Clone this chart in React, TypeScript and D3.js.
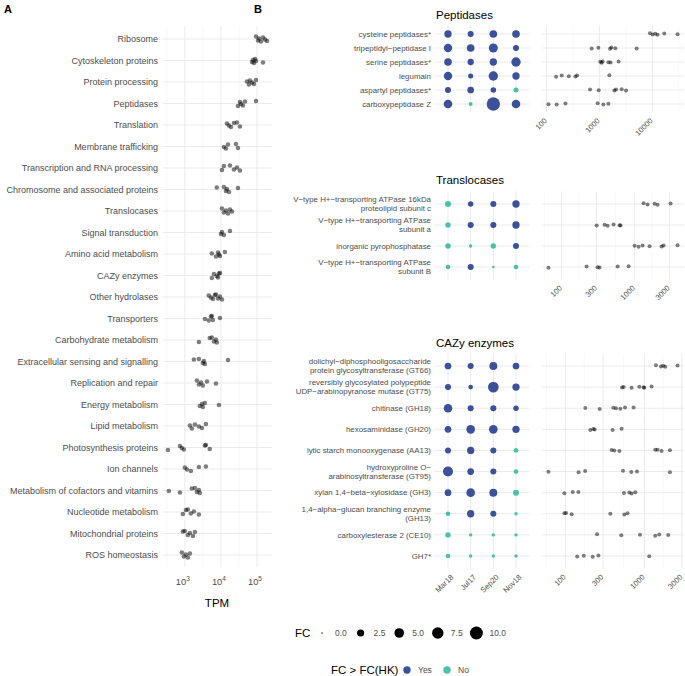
import React from "react";
import * as d3 from "d3";

// ---- panel A: TPM per functional category (one dot per sample) ----
const categoriesA = [
  "Ribosome", "Cytoskeleton proteins", "Protein processing", "Peptidases", "Translation",
  "Membrane trafficking", "Transcription and RNA processing", "Chromosome and associated proteins",
  "Translocases", "Signal transduction", "Amino acid metabolism", "CAZy enzymes", "Other hydrolases",
  "Transporters", "Carbohydrate metabolism", "Extracellular sensing and signalling",
  "Replication and repair", "Energy metabolism", "Lipid metabolism", "Photosynthesis proteins",
  "Ion channels", "Metabolism of cofactors and vitamins", "Nucleotide metabolism",
  "Mitochondrial proteins", "ROS homeostasis",
];
const tpmA = [
  [94000, 107000, 114000, 129000, 147000, 167000, 190000],
  [72600, 77400, 82500, 88000, 94000, 147000],
  [52700, 59900, 63900, 72600, 82500, 93800],
  [29700, 33700, 35900, 40800, 46400, 93800],
  [14700, 16700, 19000, 23000, 27800, 33700],
  [12100, 13800, 15700, 26100, 29700],
  [10700, 12100, 17800, 23000, 27800, 33700],
  [7700, 12100, 13800, 14700, 16700, 29700],
  [10700, 12100, 13800, 15700, 17800, 20200],
  [10000, 10700, 12100, 17800],
  [5600, 7300, 8300, 8800, 9400, 12900],
  [5600, 6400, 7700, 8300, 8800, 9400],
  [4600, 5300, 6000, 6800, 7300, 8300, 9400, 10700],
  [3600, 4600, 5300, 5600, 6000, 9400],
  [2450, 4900, 5600, 6400, 7300, 7700],
  [1780, 2450, 3160, 3370, 3600, 15700],
  [2150, 2450, 2800, 3160, 4100, 7300],
  [2600, 3000, 3160, 3600, 8800],
  [1380, 1560, 1900, 2450, 2970, 3830],
  [340, 730, 825, 940, 3600, 3830, 4900],
  [1000, 1140, 1470, 2450, 3830],
  [360, 730, 1560, 1900, 2150, 2450, 2600],
  [880, 1070, 1210, 1470, 1780, 2450],
  [880, 1000, 1210, 1380, 1670, 1900],
  [825, 940, 1070, 1210, 1380],
];
const ticksA = [1e3, 1e4, 1e5];

// ---- panel B ----
const months = ["Mar18", "Jul17", "Sep20", "Nov18"];

const peptidaseGenes = [
  ["cysteine peptidases*"], ["tripeptidyl−peptidase I"], ["serine peptidases*"],
  ["legumain"], ["aspartyl peptidases*"], ["carboxypeptidase Z"],
];
const peptidaseFC = [
  [2.6, 1.6, 2.9, 2.9], [3.6, 2.9, 4.3, 1.6], [2.9, 1.8, 2.6, 4.7],
  [3.6, 1.0, 4.7, 2.6], [1.6, 2.1, 1.3, 1.0], [3.9, 0.5, 10.6, 3.9],
];
const peptidaseAboveHK = [
  ["Yes", "Yes", "Yes", "Yes"], ["Yes", "Yes", "Yes", "Yes"], ["Yes", "Yes", "Yes", "Yes"],
  ["Yes", "Yes", "Yes", "Yes"], ["Yes", "Yes", "Yes", "No"], ["Yes", "No", "Yes", "Yes"],
];
const peptidaseTPM = [
  [9040, 10140, 11400, 12590, 16840, 30000],
  [716, 957, 1591, 1684, 2004, 5060],
  [1040, 1100, 1150, 1480, 1630, 2310],
  [152, 194, 264, 352, 379, 1545],
  [667, 970, 1919, 2065, 2636, 3190],
  [109, 156, 228, 929, 1190, 1479],
];
const peptidaseTicks = [100, 1000, 10000];

const translocaseGenes = [
  ["V−type H+−transporting ATPase 16kDa", "proteolipid subunit c"],
  ["V−type H+−transporting ATPase", "subunit a"],
  ["inorganic pyrophosphatase"],
  ["V−type H+−transporting ATPase", "subunit B"],
];
const translocaseFC = [
  [1.6, 1.2, 1.6, 2.6], [1.2, 1.6, 1.6, 2.6], [1.2, 0.3, 1.2, 1.6], [0.8, 1.6, 0.1, 0.8],
];
const translocaseAboveHK = [
  ["No", "Yes", "Yes", "Yes"], ["No", "Yes", "Yes", "Yes"], ["No", "No", "No", "Yes"], ["No", "Yes", "No", "No"],
];
const translocaseTPM = [
  [1328, 1507, 1880, 2066, 3112],
  [302, 388, 427, 515, 623, 643],
  [1000, 1135, 1288, 1605, 2343, 2497, 3880],
  [66, 220, 311, 331, 585, 828],
];
const translocaseTicks = [100, 300, 1000, 3000];

const cazyGenes = [
  ["dolichyl−diphosphooligosaccharide", "protein glycosyltransferase (GT66)"],
  ["reversibly glycosylated polypeptide", "UDP−arabinopyranose mutase (GT75)"],
  ["chitinase (GH18)"],
  ["hexosaminidase (GH20)"],
  ["lytic starch monooxygenase (AA13)"],
  ["hydroxyproline O−", "arabinosyltransferase (GT95)"],
  ["xylan 1,4−beta−xylosidase (GH3)"],
  ["1,4−alpha−glucan branching enzyme", "(GH13)"],
  ["carboxylesterase 2 (CE10)"],
  ["GH7*"],
];
const cazyFC = [
  [2.1, 1.6, 3.2, 2.1], [1.6, 0.8, 6.4, 2.6], [3.9, 1.6, 1.6, 1.2], [2.1, 3.9, 3.9, 2.6],
  [1.6, 2.6, 1.6, 0.8], [5.5, 2.1, 1.6, 0.8], [2.1, 3.9, 3.2, 1.6], [0.8, 2.6, 1.6, 0.3],
  [1.2, 0.3, 0.3, 0.3], [0.8, 0.3, 0.3, 0.3],
];
const cazyAboveHK = [
  ["Yes", "Yes", "Yes", "Yes"], ["Yes", "Yes", "Yes", "Yes"], ["Yes", "Yes", "Yes", "Yes"],
  ["Yes", "Yes", "Yes", "Yes"], ["Yes", "Yes", "Yes", "No"], ["Yes", "Yes", "Yes", "No"],
  ["Yes", "Yes", "Yes", "No"], ["No", "Yes", "Yes", "No"], ["No", "No", "No", "No"], ["No", "No", "No", "No"],
];
const cazyTPM = [
  [1406, 1627, 1740, 1845, 2640],
  [522, 547, 690, 865, 980, 1000, 1237],
  [179, 272, 405, 438, 497, 570, 732],
  [207, 226, 235, 397, 516],
  [386, 417, 483, 1377, 1473, 1656, 2115],
  [61, 147, 178, 537, 685, 808, 2115],
  [97, 124, 146, 553, 646, 691, 769],
  [97, 102, 120, 371, 558, 613],
  [252, 511, 882, 1377, 1549, 2014],
  [141, 171, 222, 262, 1157],
];
const cazyTicks = [100, 300, 1000, 3000];

const fcLegend = [0, 2.5, 5, 7.5, 10];
const hkLegend = ["Yes", "No"];

// ---- styling ----
const FONT = "'Liberation Sans', Arial, Helvetica, sans-serif";
const AXIS_TXT = "#4d4d4d";
const GRID = "#ebebeb";
const GRID_MINOR = "#f4f4f4";
const hkColor = d3.scaleOrdinal<string, string>().domain(["Yes", "No"]).range(["#3b5199", "#49c3a6"]);
const fcSize = d3.scaleSqrt().domain([0, 10]).range([0.7, 6.5]);
const jitter = [-2.5, 1.5, -0.5, 2.5, -1.5, 0.5, 2, -2];

// log scale with ggplot-style 5% expansion
function logScale(values: number[], range: [number, number]) {
  const [lo, hi] = d3.extent(values.map(Math.log10)) as [number, number];
  const pad = (hi - lo) * 0.05;
  return d3.scaleLog().domain([10 ** (lo - pad), 10 ** (hi + pad)]).range(range);
}

function minorBreaks(ticks: number[], scale: d3.ScaleLogarithmic<number, number>) {
  const l = ticks.map(Math.log10);
  const out: number[] = [];
  for (let i = 0; i < l.length - 1; i++) out.push((l[i] + l[i + 1]) / 2);
  out.push(l[0] - (l[1] - l[0]) / 2);
  out.push(l[l.length - 1] + (l[l.length - 1] - l[l.length - 2]) / 2);
  const [d0, d1] = scale.domain().map(Math.log10);
  return out.filter((v) => v >= d0 && v <= d1).map((v) => 10 ** v);
}

function PanelA() {
  const x = logScale(tpmA.flat(), [163, 272]);
  const y = d3.scalePoint().domain(categoriesA).range([39, 555]);
  const top = 26, bottom = 567;
  return (
    <g>
      {minorBreaks(ticksA, x).map((t) => (
        <line key={"m" + t} x1={x(t)} x2={x(t)} y1={top} y2={bottom} stroke={GRID_MINOR} strokeWidth={0.7} />
      ))}
      {ticksA.map((t) => (
        <line key={t} x1={x(t)} x2={x(t)} y1={top} y2={bottom} stroke={GRID} strokeWidth={1} />
      ))}
      {categoriesA.map((c) => (
        <line key={c} x1={163} x2={272} y1={y(c)} y2={y(c)} stroke={GRID} strokeWidth={1} />
      ))}
      {categoriesA.map((c) => (
        <text key={"l" + c} x={158} y={y(c)} dy="0.35em" textAnchor="end" fontSize={9} fill={AXIS_TXT}>{c}</text>
      ))}
      {tpmA.map((vals, i) =>
        vals.map((v, j) => (
          <circle key={i + "-" + j} cx={x(v)} cy={(y(categoriesA[i]) as number) + jitter[(j + i) % jitter.length]}
            r={2.3} fill="#000" fillOpacity={0.5} />
        ))
      )}
      {ticksA.map((t) => (
        <text key={"t" + t} x={x(t) - 2} y={585} textAnchor="middle" fontSize={9.3} fill={AXIS_TXT}>
          10<tspan dy={-4} fontSize={6.5}>{Math.round(Math.log10(t))}</tspan>
        </text>
      ))}
      <text x={217} y={607} textAnchor="middle" fontSize={11.5} fill="#000">TPM</text>
    </g>
  );
}

type FacetProps = {
  title: string; titleY: number; genes: string[][]; fc: number[][]; hk: string[][];
  tpm: number[][]; ticks: number[]; rowTop: number; rowBottom: number; showMonths: boolean;
};

function Facet({ title, titleY, genes, fc, hk, tpm, ticks, rowTop, rowBottom, showMonths }: FacetProps) {
  const keys = genes.map((g) => g.join(" "));
  const y = d3.scalePoint().domain(keys).range([rowTop, rowBottom]);
  const step = genes.length > 1 ? (rowBottom - rowTop) / (genes.length - 1) : 20;
  const top = rowTop - 0.6 * step, bottom = rowBottom + 0.6 * step;
  const xm = d3.scalePoint().domain(months).range([448, 516]);
  const dotL = 434.5, dotR = 529.5;
  const x = logScale(tpm.flat(), [542, 684]);
  return (
    <g>
      <text x={436} y={titleY} fontSize={11.5} fill="#000">{title}</text>
      {/* dot panel grid */}
      {months.map((m) => (
        <line key={m} x1={xm(m)} x2={xm(m)} y1={top} y2={bottom} stroke={GRID} strokeWidth={1} />
      ))}
      {keys.map((k) => (
        <line key={k} x1={dotL} x2={dotR} y1={y(k)} y2={y(k)} stroke={GRID} strokeWidth={1} />
      ))}
      {/* TPM panel grid */}
      {minorBreaks(ticks, x).map((t) => (
        <line key={"m" + t} x1={x(t)} x2={x(t)} y1={top} y2={bottom} stroke={GRID_MINOR} strokeWidth={0.7} />
      ))}
      {ticks.map((t) => (
        <line key={"t" + t} x1={x(t)} x2={x(t)} y1={top} y2={bottom} stroke={GRID} strokeWidth={1} />
      ))}
      {keys.map((k) => (
        <line key={"h" + k} x1={542} x2={684} y1={y(k)} y2={y(k)} stroke={GRID} strokeWidth={1} />
      ))}
      {/* gene labels */}
      {genes.map((lines, i) => (
        <text key={"g" + i} x={431} y={(y(keys[i]) as number) - (lines.length - 1) * 4.5}
          textAnchor="end" fontSize={7.9} fill={AXIS_TXT}>
          {lines.map((ln, j) => (
            <tspan key={j} x={431} dy={j === 0 ? "0.35em" : 9}>{ln}</tspan>
          ))}
        </text>
      ))}
      {/* FC dots */}
      {fc.map((row, i) =>
        row.map((v, j) => (
          <circle key={i + "-" + j} cx={xm(months[j])} cy={y(keys[i])} r={fcSize(v)} fill={hkColor(hk[i][j])} />
        ))
      )}
      {/* TPM points */}
      {tpm.map((vals, i) =>
        vals.map((v, j) => (
          <circle key={"p" + i + "-" + j} cx={x(v)} cy={(y(keys[i]) as number) + jitter[(i + j) % jitter.length] * 0.3}
            r={2} fill="#000" fillOpacity={0.5} />
        ))
      )}
      {/* TPM tick labels */}
      {ticks.map((t) => (
        <text key={"tl" + t} transform={`translate(${x(t) - 3},${bottom + 5}) rotate(-45)`} textAnchor="end"
          dominantBaseline="hanging" fontSize={7.6} fill={AXIS_TXT}>{t}</text>
      ))}
      {showMonths && months.map((m) => (
        <text key={"ml" + m} transform={`translate(${(xm(m) as number) + 2},${bottom + 5}) rotate(-45)`} textAnchor="end"
          dominantBaseline="hanging" fontSize={7.7} fill={AXIS_TXT}>{m}</text>
      ))}
    </g>
  );
}

function Legends() {
  return (
    <g>
      <text x={295} y={633} dy="0.35em" fontSize={11.5} fill="#000">FC</text>
      {fcLegend.map((v, i) => (
        <g key={v} transform={`translate(${322 + i * 38.6},633)`}>
          <circle r={fcSize(v)} fill="#000" />
          <text x={13} dy="0.35em" fontSize={8.5} fill={AXIS_TXT}>{v.toFixed(1)}</text>
        </g>
      ))}
      <text x={331} y={670} dy="0.35em" fontSize={11.5} fill="#000">FC &gt; FC(HK)</text>
      {hkLegend.map((v, i) => (
        <g key={v} transform={`translate(${407 + i * 40},670)`}>
          <circle r={3.7} fill={hkColor(v)} />
          <text x={11} dy="0.35em" fontSize={8.5} fill={AXIS_TXT}>{v}</text>
        </g>
      ))}
    </g>
  );
}

export default function App() {
  return (
    <svg width={685} height={676} style={{ position: "absolute", left: 0, top: 0, background: "#fff" }}
      fontFamily={FONT}>
      <text x={4} y={13} fontSize={11} fontWeight="bold">A</text>
      <text x={254} y={13} fontSize={11} fontWeight="bold">B</text>
      <PanelA />
      <Facet title="Peptidases" titleY={19} genes={peptidaseGenes} fc={peptidaseFC} hk={peptidaseAboveHK}
        tpm={peptidaseTPM} ticks={peptidaseTicks} rowTop={34} rowBottom={104} showMonths={false} />
      <Facet title="Translocases" titleY={184} genes={translocaseGenes} fc={translocaseFC} hk={translocaseAboveHK}
        tpm={translocaseTPM} ticks={translocaseTicks} rowTop={204} rowBottom={267} showMonths={false} />
      <Facet title="CAZy enzymes" titleY={347} genes={cazyGenes} fc={cazyFC} hk={cazyAboveHK}
        tpm={cazyTPM} ticks={cazyTicks} rowTop={366} rowBottom={556} showMonths={true} />
      <Legends />
    </svg>
  );
}
